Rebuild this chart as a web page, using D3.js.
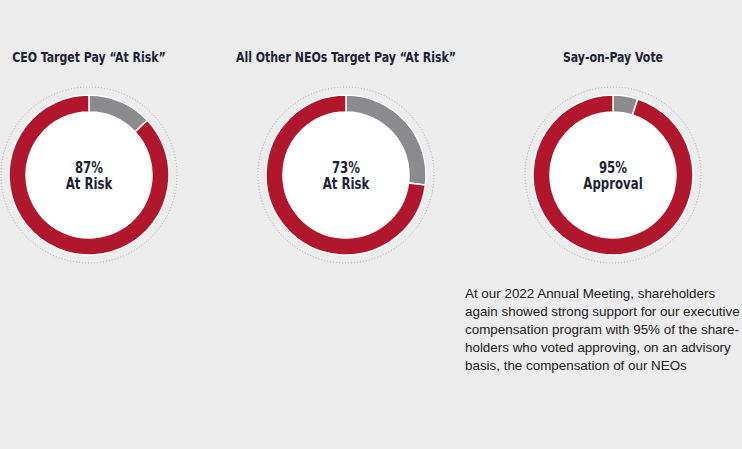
<!DOCTYPE html>
<html><head><meta charset="utf-8">
<script src="https://cdn.jsdelivr.net/npm/d3@7"></script>
<style>
html,body{margin:0;padding:0;background:#ececec;}
svg{display:block;}
</style></head>
<body>
<svg id="chart" width="742" height="449"></svg>
<script>
const titles = ["CEO Target Pay \u201cAt Risk\u201d", "All Other NEOs Target Pay \u201cAt Risk\u201d", "Say-on-Pay Vote"];
const mainValues = [87, 73, 95];
const restValues = [13, 27, 5];
const centerLabels = ["At Risk", "At Risk", "Approval"];
const noteLines = [
  "At our 2022 Annual Meeting, shareholders",
  "again showed strong support for our executive",
  "compensation program with 95% of the share-",
  "holders who voted approving, on an advisory",
  "basis, the compensation of our NEOs"
];

const svg = d3.select("#chart");
svg.append("rect").attr("width",742).attr("height",449).attr("fill","#ececec");

const xPos = d3.scaleOrdinal().domain(titles).range([89, 346, 613]);
const cy = 175;
const outerR = 80, innerR = 63;
const colors = d3.scaleOrdinal().domain(["rest","main"]).range(["#8b8b8d","#b0172d"]);
const pie = d3.pie().sort(null).value(d => d.v);
const arc = d3.arc().innerRadius(innerR).outerRadius(outerR);
const fontC = "'DejaVu Sans Condensed','DejaVu Sans',sans-serif";
const sx = 0.87;

titles.forEach((t, i) => {
  const g = svg.append("g").attr("transform", `translate(${xPos(t)},0)`);
  g.append("text").attr("transform",`translate(0,62) scale(${sx},1)`).attr("text-anchor","middle")
    .attr("font-family",fontC).attr("font-weight","bold").attr("font-size",14)
    .attr("fill","#1d2333").text(t);
  const dg = g.append("g").attr("transform",`translate(0,${cy})`);
  dg.append("circle").attr("r",88).attr("fill","none").attr("stroke","#a9a9a9")
    .attr("stroke-width",1).attr("stroke-dasharray","1 2");
  dg.append("circle").attr("r",innerR).attr("fill","#ffffff");
  const data = [{k:"rest", v:restValues[i]}, {k:"main", v:mainValues[i]}];
  dg.selectAll("path").data(pie(data)).join("path")
    .attr("d", arc).attr("fill", d => colors(d.data.k))
    .attr("stroke","#ffffff").attr("stroke-width",1.5);
  dg.append("text").attr("transform",`translate(0,-2) scale(${sx},1)`).attr("text-anchor","middle")
    .attr("font-family",fontC).attr("font-weight","bold").attr("font-size",15)
    .attr("fill","#1d2333").text(mainValues[i] + "%");
  dg.append("text").attr("transform",`translate(0,14) scale(${sx},1)`).attr("text-anchor","middle")
    .attr("font-family",fontC).attr("font-weight","bold").attr("font-size",15)
    .attr("fill","#1d2333").text(centerLabels[i]);
});

const note = svg.append("text").attr("font-family","'Liberation Sans',Arial,sans-serif")
  .attr("font-size",13.4).attr("fill","#222");
noteLines.forEach((l, j) => {
  note.append("tspan").attr("x",465).attr("y",298 + j*18).text(l);
});
</script>
</body></html>
